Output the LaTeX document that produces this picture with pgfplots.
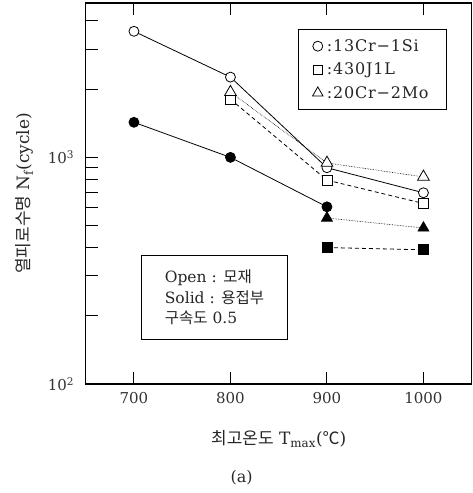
\documentclass[border=0pt]{standalone}
\usepackage{fontspec}
\setmainfont{DejaVu Serif}
\newfontfamily\kr{Noto Sans CJK KR}
\usepackage{pgfplots}
\pgfplotsset{compat=1.18}
\usetikzlibrary{calc}

\begin{document}
\begin{tikzpicture}
\begin{axis}[
  scale only axis, width=386pt, height=381pt,
  xmin=650, xmax=1050, ymode=log, ymin=100, ymax=4800,
  xtick={700,800,900,1000}, xtick pos=both, ytick pos=left,
  ytick={100,1000}, yticklabels={10\textsuperscript{2},10\textsuperscript{3}},
  minor ytick={200,300,400,500,600,700,800,900,2000,3000,4000},
  /pgf/number format/assume math mode=true,
  /pgf/number format/1000 sep={},
  tick align=inside, major tick length=12pt, minor tick length=12pt,
  axis line style={line width=1.5pt},
  tick style={line width=1pt, black},
  tick label style={font=\fontsize{15}{18}\selectfont, text=black!80},
  xticklabel style={yshift=-5pt},
  yticklabel style={xshift=-8pt},
  label style={font=\fontsize{17}{20}\selectfont, text=black!85},
  xlabel={{\kr 최고온도} T\textsubscript{max}({\kr ℃})},
  ylabel={{\kr 열피로수명} N\textsubscript{f}(cycle)},
  x label style={at={(axis description cs:0.5,-0.144)}, anchor=center},
  y label style={at={(axis description cs:-0.158,0.5)}, anchor=center},
  legend style={at={(rel axis cs:0.55,0.932)}, anchor=north west,
    draw=black, line width=1.2pt, font=\fontsize{16}{18}\selectfont\addfontfeatures{LetterSpace=5},
    row sep=6pt, inner xsep=14pt, inner ysep=8pt, text=black!85,
    nodes={inner xsep=4pt}},
  legend cell align=left,
]
\addlegendimage{only marks, mark=o, mark size=5pt, line width=0.8pt}
\addlegendentry{:13Cr−1Si}
\addlegendimage{only marks, mark=square, mark size=4.5pt, line width=0.8pt}
\addlegendentry{:430J1L}
\addlegendimage{only marks, mark=triangle, mark size=6pt, line width=0.8pt}
\addlegendentry{:20Cr−2Mo}

% 13Cr-1Si
\addplot[black, line width=0.8pt, mark=*, mark size=5pt, mark options={fill=white, solid}]
  coordinates {(700,3600)(800,2260)(900,900)(1000,698)};
\addplot[black, line width=0.8pt, mark=*, mark size=5pt, mark options={fill=black, solid}]
  coordinates {(700,1428)(800,1000)(900,605)};
% 430J1L
\addplot[black, line width=0.8pt, dash pattern=on 4pt off 3pt, mark=square*, mark size=5pt, mark options={fill=white, solid}]
  coordinates {(800,1806)(900,794)(1000,626)};
\addplot[black, line width=0.8pt, dash pattern=on 4pt off 3pt, mark=square*, mark size=5pt, mark options={fill=black, solid}]
  coordinates {(900,400)(1000,391)};
% 20Cr-2Mo
\addplot[black, line width=0.6pt, densely dotted, mark=triangle*, mark size=6.8pt, mark options={fill=white, solid, line width=0.8pt}]
  coordinates {(800,1940)(900,945)(1000,820)};
\addplot[black, line width=0.6pt, densely dotted, mark=triangle*, mark size=6.4pt, mark options={fill=black, solid}]
  coordinates {(900,540)(1000,488)};

\node[draw=black, line width=1.2pt, anchor=north west, minimum width=146pt, minimum height=84pt,
  align=left, text=black!85, font=\fontsize{15.5}{20.7}\selectfont, inner xsep=15pt]
  at (rel axis cs:0.143,0.339)
  {Open : {\kr 모재}\\Solid : {\kr 용접부}\\{\kr 구속도} 0.5};

\coordinate (sw) at (rel axis cs:0,0);
\coordinate (ne) at (rel axis cs:1,1);
\end{axis}
\node[font=\fontsize{16}{18}\selectfont, text=black!85] at ($(sw)+(156pt,-94pt)$) {(a)};
\path[use as bounding box] ($(sw)+(-85.7pt,-109pt)$) rectangle ($(ne)+(0.8pt,3pt)$);
\end{tikzpicture}
\end{document}
